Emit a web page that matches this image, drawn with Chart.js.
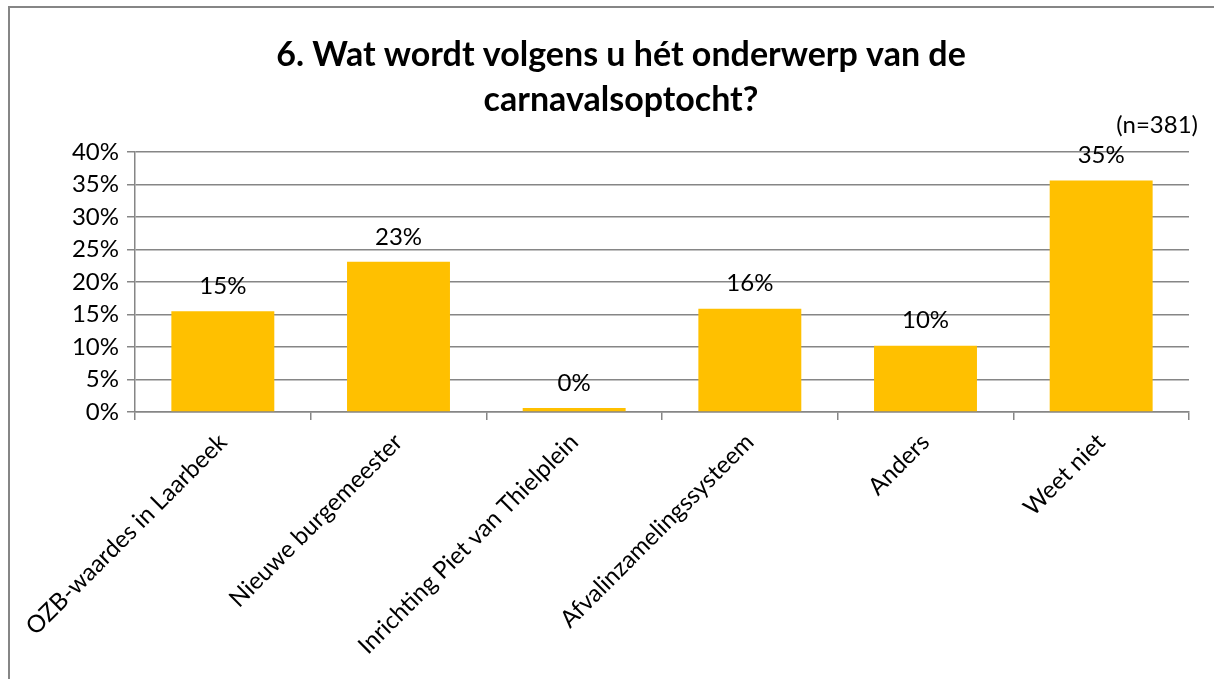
<!DOCTYPE html>
<html>
<head>
<meta charset="utf-8">
<script src="https://cdn.jsdelivr.net/npm/chart.js@4"></script>
<style>
  body { margin: 0; background: #fff; }
  #wrap { width: 1214px; height: 679px; }
</style>
</head>
<body>
<div id="wrap"><canvas id="chart" width="1214" height="679"></canvas></div>
<script>
const categories = ["OZB-waardes in Laarbeek", "Nieuwe burgemeester", "Inrichting Piet van Thielplein",
    "Afvalinzamelingssysteem", "Anders", "Weet niet"];
const values = [15.5, 23.1, 0.6, 15.9, 10.2, 35.6];
const valueLabels = ["15%", "23%", "0%", "16%", "10%", "35%"];
const yTicks = [0, 5, 10, 15, 20, 25, 30, 35, 40];
const titleLines = ["6. Wat wordt volgens u hét onderwerp van de", "carnavalsoptocht?"];
const note = "(n=381)";

const FONT = "Lato, 'Open Sans', sans-serif";
const GRID = "#868686";

const extras = {
    id: "extras",
    beforeDraw(chart) {
        const ctx = chart.ctx;
        ctx.save();
        ctx.fillStyle = "#fff";
        ctx.fillRect(0, 0, chart.width, chart.height);
        ctx.strokeStyle = GRID;
        ctx.lineWidth = 2;
        ctx.strokeRect(9, 7, chart.width + 20, chart.height + 20);
        ctx.restore();
    },
    afterDatasetsDraw(chart) {
        const ctx = chart.ctx;
        ctx.save();
        ctx.fillStyle = "#000";
        ctx.textAlign = "center";
        ctx.textBaseline = "middle";
        ctx.font = "24px " + FONT;
        chart.getDatasetMeta(0).data.forEach((bar, i) => {
            ctx.fillText(valueLabels[i], bar.x, bar.y - 25);
        });

        ctx.font = "bold 34px " + FONT;
        titleLines.forEach((line, i) => {
            ctx.fillText(line, 621, 55 + i * 45);
        });

        ctx.font = "24px " + FONT;
        ctx.textAlign = "right";
        ctx.fillText(note, 1198, 125);
        ctx.restore();
    }
};

new Chart(document.getElementById("chart"), {
    type: "bar",
    data: {
        labels: categories,
        datasets: [{
            data: values,
            backgroundColor: "#FFC000",
            categoryPercentage: 1,
            barPercentage: 0.586
        }]
    },
    options: {
        responsive: false,
        animation: false,
        layout: { padding: { top: 152, right: 25, left: 0, bottom: 0 } },
        plugins: { legend: { display: false }, tooltip: { enabled: false } },
        scales: {
            x: {
                afterFit(scale) { scale.height = 679 - 412; },
                grid: { drawOnChartArea: false, color: GRID, tickLength: 8, lineWidth: 1.5 },
                border: { color: GRID, width: 1.5 },
                ticks: {
                    color: "#000",
                    font: { family: FONT, size: 24 },
                    minRotation: 45,
                    maxRotation: 45,
                    autoSkip: false,
                    padding: 8
                }
            },
            y: {
                min: 0,
                max: 40,
                afterFit(scale) { scale.width = 135; },
                afterBuildTicks(scale) { scale.ticks = yTicks.map(v => ({ value: v })); },
                grid: { color: GRID, tickLength: 8, lineWidth: 1.5 },
                border: { color: GRID, width: 1.5 },
                ticks: {
                    color: "#000",
                    font: { family: FONT, size: 24 },
                    padding: 8,
                    callback: v => v + "%"
                }
            }
        }
    },
    plugins: [extras]
});
</script>
</body>
</html>
